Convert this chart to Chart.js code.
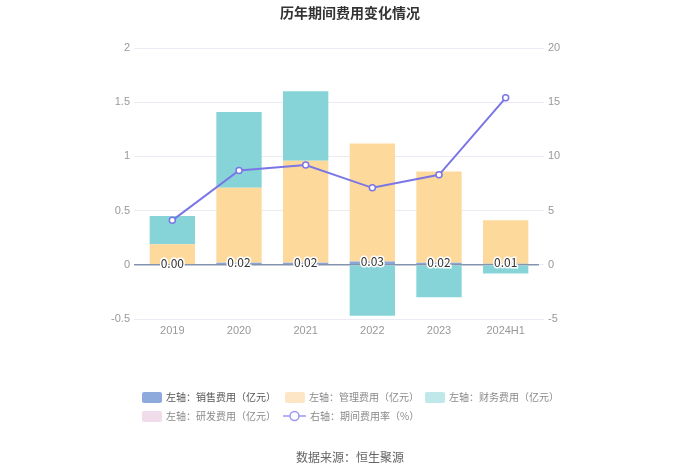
<!DOCTYPE html>
<html>
<head>
<meta charset="utf-8">
<script src="https://cdn.jsdelivr.net/npm/chart.js@4/dist/chart.umd.min.js"></script>
<style>
  body { margin: 0; background: #fff; font-family: "Noto Sans CJK SC", "Noto Sans", sans-serif; }
  .wrap { position: relative; width: 700px; height: 473px; }
  #myChart { position: absolute; left: 0; top: 0; }
  .title { position: absolute; top: 2px; left: 0; width: 700px; text-align: center; font-size: 14px; font-weight: bold; color: #333; }
  .source { position: absolute; top: 448px; left: 0; width: 700px; text-align: center; font-size: 12px; color: #666; }
  .legend-item { position: absolute; font-size: 10px; color: #8a8a8a; line-height: 14px; white-space: nowrap; }
  .legend-item .box { display: inline-block; width: 20px; height: 11px; border-radius: 2px; vertical-align: -2px; margin-right: 4px; }
  .legend-item svg { vertical-align: -2px; margin-right: 4px; }
</style>
</head>
<body>
<div class="wrap">
  <canvas id="myChart" width="700" height="473"></canvas>
  <div class="title">历年期间费用变化情况</div>
  <div class="legend"></div>
  <div class="source">数据来源：恒生聚源</div>
</div>
<script>
const years = ['2019', '2020', '2021', '2022', '2023', '2024H1'];
const salesCost = [0.00, 0.02, 0.02, 0.03, 0.02, 0.01];
const adminCost = [0.19, 0.69, 0.94, 1.09, 0.84, 0.40];
const financeCost = [0.26, 0.70, 0.64, -0.47, -0.30, -0.08];
const rdCost = [null, null, null, null, null, null];
const costRate = [4.1, 8.7, 9.2, 7.1, 8.3, 15.4];
const leftTicks = [-0.5, 2, 0.5];
const rightTicks = [-5, 20, 5];

const $legend = document.querySelector('.legend');
const legendItems = [
  { x: 142, y: 390, color: '#8eaadd', text: '左轴：销售费用（亿元）', dark: true },
  { x: 285, y: 390, color: '#fde6c5', text: '左轴：管理费用（亿元）' },
  { x: 425, y: 390, color: '#bfe8eb', text: '左轴：财务费用（亿元）' },
  { x: 142, y: 409, color: '#f1dcec', text: '左轴：研发费用（亿元）' },
  { x: 283, y: 409, line: true, text: '右轴：期间费用率（%）' },
];
legendItems.forEach((item) => {
  const marker = item.line
    ? `<svg width="23" height="12"><line x1="0" y1="6" x2="23" y2="6" stroke="#9c99ee" stroke-width="1.5"/><circle cx="11.5" cy="6" r="4.5" fill="#fff" stroke="#9c99ee" stroke-width="1.5"/></svg>`
    : `<span class="box" style="background:${item.color}"></span>`;
  $legend.insertAdjacentHTML('beforeend',
    `<div class="legend-item" style="left:${item.x}px;top:${item.y}px;${item.dark ? 'color:#555' : ''}">${marker}${item.text}</div>`);
});

// labels for the sales bars, drawn on the zero line
const salesLabels = {
  id: 'salesLabels',
  afterDatasetsDraw(chart) {
    const ctx = chart.ctx;
    const meta = chart.getDatasetMeta(1);
    ctx.save();
    ctx.font = '12px "Noto Sans CJK SC", sans-serif';
    ctx.textAlign = 'center';
    ctx.textBaseline = 'middle';
    ctx.lineWidth = 3;
    ctx.strokeStyle = '#fff';
    ctx.fillStyle = '#333';
    meta.data.forEach((bar, i) => {
      const txt = salesCost[i].toFixed(2);
      const y = (bar.y + bar.base) / 2 - 1;
      ctx.strokeText(txt, bar.x, y);
      ctx.fillText(txt, bar.x, y);
    });
    ctx.restore();
  },
};

const data = {
  labels: years,
  datasets: [
    {
      type: 'line',
      label: '右轴：期间费用率（%）',
      data: costRate,
      yAxisID: 'y1',
      borderColor: '#7b76e6',
      borderWidth: 2,
      pointRadius: 3,
      pointBorderWidth: 1.5,
      pointBackgroundColor: '#fff',
      pointBorderColor: '#7b76e6',
      tension: 0,
      order: 0,
    },
    {
      label: '左轴：销售费用（亿元）',
      data: salesCost,
      backgroundColor: '#8aa6d8',
      stack: 's',
      order: 1,
    },
    {
      label: '左轴：管理费用（亿元）',
      data: adminCost,
      backgroundColor: '#fed99c',
      stack: 's',
      order: 1,
    },
    {
      label: '左轴：财务费用（亿元）',
      data: financeCost,
      backgroundColor: '#86d4d8',
      stack: 's',
      order: 1,
    },
    {
      label: '左轴：研发费用（亿元）',
      data: rdCost,
      backgroundColor: '#eed5ea',
      stack: 's',
      order: 1,
    },
  ],
};

const config = {
  type: 'bar',
  data: data,
  options: {
    responsive: false,
    animation: false,
    layout: { padding: { top: 48, left: 0, right: 0, bottom: 0 } },
    datasets: {
      bar: { barPercentage: 0.68, categoryPercentage: 1 },
    },
    plugins: {
      legend: { display: false },
      tooltip: { enabled: false },
    },
    scales: {
      x: {
        stacked: true,
        grid: { display: false, drawTicks: false },
        border: { display: false },
        ticks: { color: '#999', font: { size: 11 }, padding: 5 },
        afterFit(scale) { scale.height = 473 - 319; },
      },
      y: {
        stacked: true,
        position: 'left',
        min: leftTicks[0],
        max: leftTicks[1],
        ticks: { stepSize: leftTicks[2], color: '#999', font: { size: 11 }, padding: 4, callback: (v) => String(v) },
        border: { display: false },
        grid: {
          color: (c) => (c.tick && c.tick.value === 0 ? '#8494ae' : '#e9ecf2'),
          lineWidth: (c) => (c.tick && c.tick.value === 0 ? 1.5 : 1),
          tickLength: 5,
        },
        afterFit(scale) { scale.width = 139; },
      },
      y1: {
        position: 'right',
        min: rightTicks[0],
        max: rightTicks[1],
        ticks: { stepSize: rightTicks[2], color: '#999', font: { size: 11 }, padding: 4, callback: (v) => String(v) },
        border: { display: false },
        grid: { drawOnChartArea: false, color: '#e9ecf2', tickLength: 5 },
        afterFit(scale) { scale.width = 700 - 539; },
      },
    },
  },
  plugins: [salesLabels],
};

const myChart = new Chart(document.getElementById('myChart'), config);
</script>
</body>
</html>
